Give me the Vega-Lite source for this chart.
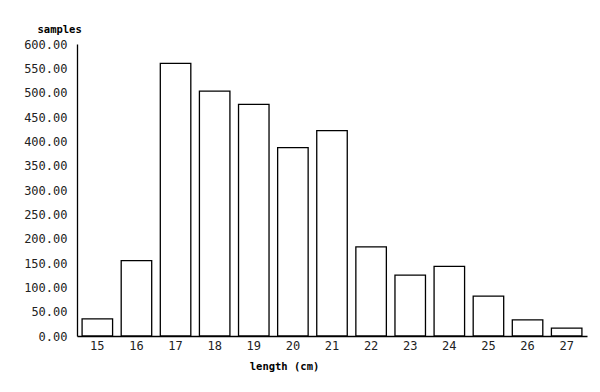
{
  "$schema": "https://vega.github.io/schema/vega-lite/v6.json",
  "width": 510,
  "height": 292,
  "autosize": {"type": "none"},
  "padding": {"left": 77, "top": 44, "right": 13, "bottom": 56},
  "background": "white",
  "config": {"view": {"stroke": null}},
  "data": {
    "values": [
      {"length": 15, "samples": 35},
      {"length": 16, "samples": 155},
      {"length": 17, "samples": 560},
      {"length": 18, "samples": 503},
      {"length": 19, "samples": 476},
      {"length": 20, "samples": 387},
      {"length": 21, "samples": 422},
      {"length": 22, "samples": 183},
      {"length": 23, "samples": 125},
      {"length": 24, "samples": 143},
      {"length": 25, "samples": 82},
      {"length": 26, "samples": 33},
      {"length": 27, "samples": 16}
    ]
  },
  "mark": {"type": "bar", "fill": "white", "stroke": "black", "strokeWidth": 1.3},
  "encoding": {
    "x": {
      "field": "length",
      "type": "ordinal",
      "scale": {"paddingInner": 0.22, "paddingOuter": 0.13},
      "axis": {
        "title": "length (cm)",
        "titleFont": "DejaVu Sans Mono",
        "titleFontSize": 10.5,
        "titleFontWeight": "bold",
        "titleColor": "black",
        "titleX": 207,
        "titleY": 30,
        "titleAlign": "center",
        "titleBaseline": "middle",
        "labelAngle": 0,
        "labelFont": "DejaVu Sans Mono",
        "labelFontSize": 12,
        "labelColor": "#222222",
        "labelPadding": 4,
        "ticks": false,
        "domainColor": "black",
        "domainWidth": 1.3
      }
    },
    "y": {
      "field": "samples",
      "type": "quantitative",
      "scale": {"domain": [0, 600], "nice": false},
      "axis": {
        "title": "samples",
        "titleFont": "DejaVu Sans Mono",
        "titleFontSize": 10.5,
        "titleFontWeight": "bold",
        "titleColor": "black",
        "titleAngle": 0,
        "titleAlign": "left",
        "titleBaseline": "middle",
        "titleX": -40,
        "titleY": -15,
        "values": [0, 50, 100, 150, 200, 250, 300, 350, 400, 450, 500, 550, 600],
        "format": ".2f",
        "labelFont": "DejaVu Sans Mono",
        "labelFontSize": 12,
        "labelColor": "#222222",
        "labelPadding": 10,
        "ticks": false,
        "grid": false,
        "domainColor": "black",
        "domainWidth": 1.3
      }
    }
  }
}
